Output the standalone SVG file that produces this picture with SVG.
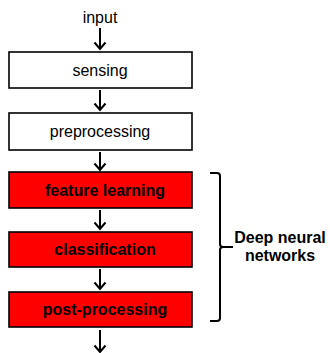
<svg xmlns="http://www.w3.org/2000/svg" width="330" height="353" viewBox="0 0 330 353">
<style>
.box{stroke:#000;stroke-width:1.6}
.w{fill:#fff}
.r{fill:#ff0000}
.t{font-family:"Liberation Sans",Arial,sans-serif;font-size:16px;text-anchor:middle;fill:#000}
.b{font-weight:bold}
.c line,.c path{stroke:#000;stroke-width:2;fill:none}
</style>
<rect width="330" height="353" fill="#fff"/>
<text class="t" x="100" y="23">input</text>
<g id="sensing"><rect class="box w" x="9" y="52" width="183" height="36"/><text class="t" x="100" y="76">sensing</text></g>
<g id="preprocessing"><rect class="box w" x="9" y="113" width="183" height="37"/><text class="t" x="100" y="137">preprocessing</text></g>
<g id="feature"><rect class="box r" x="9" y="172" width="183" height="36"/><text class="t b" x="105" y="196">feature learning</text></g>
<g id="classification"><rect class="box r" x="9" y="232" width="183" height="35"/><text class="t b" x="105" y="255">classification</text></g>
<g id="post"><rect class="box r" x="9" y="292" width="183" height="35"/><text class="t b" x="105" y="315">post-processing</text></g>
<g class="c">
<line x1="100" y1="28" x2="100" y2="49"/><path d="M94.5 42.5 L100 49 L105.5 42.5"/>
<line x1="100" y1="90" x2="100" y2="110"/><path d="M94.5 103.5 L100 110 L105.5 103.5"/>
<line x1="100" y1="152" x2="100" y2="170"/><path d="M94.5 163.5 L100 170 L105.5 163.5"/>
<line x1="100" y1="210" x2="100" y2="229"/><path d="M94.5 222.5 L100 229 L105.5 222.5"/>
<line x1="100" y1="269" x2="100" y2="289"/><path d="M94.5 282.5 L100 289 L105.5 282.5"/>
<line x1="100" y1="330" x2="100" y2="352"/><path d="M94.5 345.5 L100 352 L105.5 345.5"/>
<path d="M210 173 L217 173 Q220 173 220 176 L220 244 Q220 247 223 247 L233 247 M223 247 Q220 247 220 250 L220 318 Q220 321 217 321 L210 321"/>
</g>
<g id="dnn"><text class="t b" x="280" y="243">Deep neural</text><text class="t b" x="280" y="261">networks</text></g>
</svg>
